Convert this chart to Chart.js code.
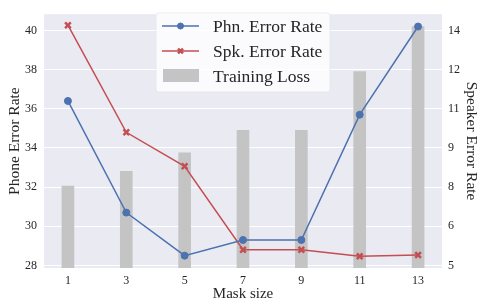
<!DOCTYPE html>
<html>
<head>
<meta charset="utf-8">
<script src="https://cdn.jsdelivr.net/npm/chart.js@4/dist/chart.umd.min.js"></script>
<style>
  html, body { margin: 0; padding: 0; background: #fff; }
  #c { display: block; }
</style>
</head>
<body>
<canvas id="c" width="479" height="304"></canvas>
<script>
// data
const maskSizes = [1, 3, 5, 7, 9, 11, 13];
const phnErrorRate = [36.4, 30.7, 28.5, 29.3, 29.3, 35.7, 40.2];
const spkErrorRate = [14.2, 10.1, 8.8, 5.6, 5.6, 5.35, 5.4];
// training loss bars, in units of a hidden axis sharing the left range
const trainingLoss = [32.05, 32.8, 33.75, 34.9, 34.9, 37.9, 40.2];

const leftTicks = [28, 30, 32, 34, 36, 38, 40];
const rightTicks = [5, 6.5, 8, 9.5, 11, 12.5, 14];
const rightTickLabels = ["5", "6", "8", "9", "11", "12", "14"];

const BLUE = "#4C72B0";
const RED = "#C44E52";
const BAR = "#c4c4c4";
const SERIF = "'Liberation Serif', 'DejaVu Serif', serif";
const TXT = "#262626";

const leftMin = 27.87, leftMax = 40.83;
const toRight = v => 5 + (v - 28) * 0.75;

// grey plot background
const bgPlugin = {
  id: "bg",
  beforeDraw(chart) {
    const a = chart.chartArea, ctx = chart.ctx;
    ctx.save();
    ctx.fillStyle = "#EAEAF2";
    ctx.fillRect(a.left, a.top, a.right - a.left, a.bottom - a.top);
    ctx.restore();
  }
};

// matplotlib style legend box
const legendPlugin = {
  id: "mplLegend",
  afterDraw(chart) {
    const ctx = chart.ctx;
    const x0 = 156, y0 = 13, w = 174, h = 79;
    ctx.save();
    ctx.fillStyle = "rgba(255,255,255,0.8)";
    ctx.strokeStyle = "rgba(230,230,235,0.8)";
    ctx.beginPath();
    ctx.roundRect(x0, y0, w, h, 3);
    ctx.fill();
    ctx.stroke();

    const rows = [26, 51, 76];
    const labels = ["Phn. Error Rate", "Spk. Error Rate", "Training Loss"];
    // line samples
    [[BLUE, "circle"], [RED, "crossRot"]].forEach(([col, style], i) => {
      ctx.strokeStyle = col;
      ctx.fillStyle = col;
      ctx.lineWidth = 1.5;
      ctx.beginPath();
      ctx.moveTo(162, rows[i]);
      ctx.lineTo(199, rows[i]);
      ctx.stroke();
      ctx.lineWidth = style === "circle" ? 1 : 2.5;
      Chart.helpers.drawPoint(ctx, {
        pointStyle: style, radius: style === "circle" ? 3 : 3.5,
        borderWidth: ctx.lineWidth, rotation: 0
      }, 180.5, rows[i]);
    });
    ctx.fillStyle = BAR;
    ctx.fillRect(163, 69, 36, 13);

    ctx.fillStyle = TXT;
    ctx.font = "17.5px " + SERIF;
    ctx.textBaseline = "middle";
    labels.forEach((t, i) => ctx.fillText(t, 213, rows[i] + 1));
    ctx.restore();
  }
};

const toXY = arr => arr.map((v, i) => ({ x: maskSizes[i], y: v }));

new Chart(document.getElementById("c"), {
  data: {
    datasets: [
      {
        type: "line",
        label: "Phn. Error Rate",
        data: toXY(phnErrorRate),
        yAxisID: "y",
        borderColor: BLUE,
        backgroundColor: BLUE,
        borderWidth: 1.5,
        pointStyle: "circle",
        pointRadius: 3.5,
        pointBorderWidth: 1,
        order: 1
      },
      {
        type: "line",
        label: "Spk. Error Rate",
        data: toXY(spkErrorRate),
        yAxisID: "y1",
        borderColor: RED,
        backgroundColor: RED,
        borderWidth: 1.5,
        pointStyle: "crossRot",
        pointRadius: 4,
        pointBorderWidth: 2.5,
        order: 1
      },
      {
        type: "bar",
        label: "Training Loss",
        data: toXY(trainingLoss),
        yAxisID: "yLoss",
        backgroundColor: BAR,
        barThickness: 12,
        order: 2
      }
    ]
  },
  options: {
    responsive: false,
    animation: false,
    layout: { padding: { top: 3, left: 0, right: 0, bottom: 0 } },
    plugins: { legend: { display: false }, tooltip: { enabled: false } },
    scales: {
      x: {
        type: "linear",
        offset: false,
        min: 0.18,
        max: 13.82,
        afterBuildTicks: s => { s.ticks = maskSizes.map(v => ({ value: v })); },
        afterFit: s => { s.height = 36; },
        grid: { display: false, drawTicks: false },
        border: { display: false },
        ticks: { color: TXT, font: { family: SERIF, size: 12 }, padding: 6 },
        title: {
          display: true, text: "Mask size", color: TXT,
          font: { family: SERIF, size: 15, lineHeight: 1 },
          padding: { top: 0, bottom: 2 }
        }
      },
      y: {
        position: "left",
        min: leftMin,
        max: leftMax,
        afterBuildTicks: s => { s.ticks = leftTicks.map(v => ({ value: v })); },
        afterFit: s => { s.width = 44; },
        grid: { color: "#ffffff", lineWidth: 1, drawTicks: false },
        border: { display: false },
        ticks: { color: TXT, font: { family: SERIF, size: 12 }, padding: 7 },
        title: {
          display: true, text: "Phone Error Rate", color: TXT,
          font: { family: SERIF, size: 15.5, lineHeight: 1 },
          padding: { top: 7, bottom: 0 }
        }
      },
      y1: {
        position: "right",
        min: toRight(leftMin),
        max: toRight(leftMax),
        afterBuildTicks: s => { s.ticks = rightTicks.map(v => ({ value: v })); },
        afterFit: s => { s.width = 37; },
        grid: { display: false, drawTicks: false },
        border: { display: false },
        ticks: {
          color: TXT, font: { family: SERIF, size: 12 }, padding: 6,
          callback: (v, i) => rightTickLabels[i]
        },
        title: {
          display: true, text: "Speaker Error Rate", color: TXT,
          font: { family: SERIF, size: 15.5, lineHeight: 1 },
          padding: { top: 0, bottom: 0 }
        }
      },
      yLoss: {
        display: false,
        min: leftMin,
        max: leftMax
      }
    }
  },
  plugins: [bgPlugin, legendPlugin]
});
</script>
</body>
</html>
